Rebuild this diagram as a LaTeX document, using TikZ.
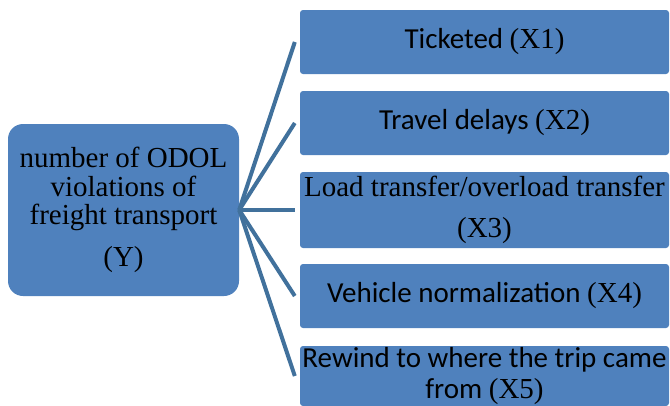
\documentclass[tikz,border=0pt]{standalone}
\usepackage{fontspec}
\setmainfont{Liberation Serif}
\newfontfamily\carl{Carlito}
\definecolor{boxblue}{HTML}{4F81BD}
\definecolor{linkblue}{HTML}{41719C}

\begin{document}
\begin{tikzpicture}[x=1pt,y=-1pt,
  box/.style={fill=boxblue, draw=none, inner sep=0pt, align=center,
    font=\fontsize{29}{28.5}\selectfont},
  cause/.style={box, rounded corners=3pt, minimum width=369pt},
  link/.style={draw=linkblue, line width=4pt}]
\useasboundingbox (0,0) rectangle (670,405);

% dependent variable
\node[box, rounded corners=15pt, minimum width=231pt, minimum height=172pt]
  (Y) at (123.5,210) {number of ODOL\\violations of\\freight transport\\[13pt](Y)};

% explanatory variables
\node[cause, minimum height=64pt] (X1) at (484.5,42) {{\carl Ticketed }(X1)};
\node[cause, minimum height=64pt] (X2) at (484.5,123) {{\carl Travel delays }(X2)};
\node[cause, minimum height=76pt] (X3) at (484.5,210) {Load transfer/overload transfer\\[12pt](X3)};
\node[cause, minimum height=64pt] (X4) at (484.5,296) {{\carl Vehicle normalization }(X4)};
\node[cause, minimum height=60pt] (X5) at (484.5,376) {{\carl Rewind to where the trip came}\\[3pt]{\carl from }(X5)};

% connectors fanning out from Y
\foreach \i in {1,...,5}
  \draw[link] (Y.east) -- ([xshift=-5pt]X\i.west);
\end{tikzpicture}
\end{document}
